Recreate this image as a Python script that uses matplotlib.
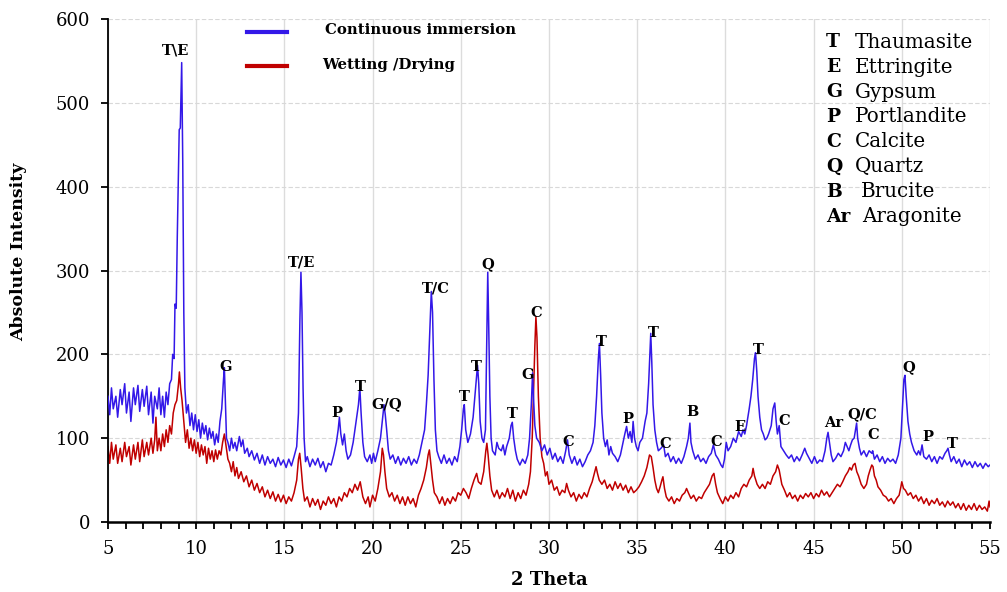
import matplotlib
matplotlib.use("Agg")
import matplotlib.pyplot as plt
from matplotlib.ticker import MultipleLocator

plt.rcParams['font.family'] = ['DejaVu Serif']

# (2 theta, intensity) - continuous immersion
ci_points = [
    (5.0, 150), (5.1, 128), (5.2, 160), (5.3, 135), (5.45, 150), (5.55, 125), (5.7, 158), (5.8, 140),
    (5.95, 165), (6.05, 130), (6.2, 155), (6.3, 120), (6.45, 160), (6.55, 140), (6.7, 163), (6.8, 132),
    (6.95, 158), (7.05, 138), (7.2, 162), (7.3, 128), (7.45, 155), (7.55, 118), (7.65, 150), (7.8, 135),
    (7.9, 160), (8.0, 128), (8.1, 150), (8.2, 125), (8.3, 155), (8.4, 140), (8.5, 165), (8.6, 170),
    (8.67, 200), (8.75, 195), (8.8, 260), (8.87, 255), (8.93, 340), (9.0, 420), (9.04, 468), (9.1, 470),
    (9.18, 548), (9.24, 430), (9.3, 250), (9.36, 160), (9.45, 130), (9.55, 140), (9.65, 115), (9.75, 130),
    (9.85, 110), (9.95, 128), (10.05, 108), (10.15, 122), (10.25, 100), (10.35, 118), (10.45, 105),
    (10.55, 115), (10.65, 98), (10.75, 112), (10.85, 100), (10.95, 108), (11.05, 92), (11.15, 105),
    (11.25, 95), (11.35, 120), (11.45, 135), (11.55, 170), (11.6, 184), (11.65, 150), (11.72, 100),
    (11.8, 95), (11.9, 85), (12.0, 100), (12.1, 88), (12.2, 95), (12.3, 85), (12.45, 102), (12.55, 90),
    (12.65, 98), (12.75, 82), (12.9, 88), (13.0, 78), (13.15, 85), (13.3, 74), (13.45, 82), (13.6, 70),
    (13.75, 80), (13.9, 68), (14.05, 78), (14.2, 70), (14.35, 75), (14.5, 66), (14.65, 77), (14.8, 68),
    (14.95, 74), (15.1, 65), (15.25, 75), (15.4, 67), (15.55, 78), (15.7, 90), (15.8, 130), (15.88, 240),
    (15.94, 298), (16.0, 250), (16.06, 160), (16.12, 100), (16.2, 72), (16.3, 78), (16.45, 66), (16.6, 75),
    (16.75, 68), (16.9, 76), (17.05, 65), (17.2, 72), (17.35, 60), (17.5, 70), (17.65, 68), (17.8, 80),
    (17.95, 95), (18.05, 110), (18.12, 125), (18.2, 105), (18.3, 92), (18.4, 105), (18.5, 85), (18.6, 75),
    (18.75, 80), (18.9, 95), (19.0, 110), (19.1, 125), (19.2, 140), (19.28, 160), (19.35, 130), (19.45, 95),
    (19.55, 78), (19.7, 72), (19.85, 80), (19.95, 70), (20.05, 82), (20.15, 72), (20.3, 85), (20.45, 100),
    (20.55, 120), (20.65, 140), (20.72, 128), (20.8, 110), (20.9, 85), (21.0, 75), (21.15, 80), (21.3, 70),
    (21.45, 78), (21.6, 68), (21.75, 76), (21.9, 70), (22.05, 78), (22.2, 68), (22.35, 75), (22.5, 70),
    (22.65, 80), (22.8, 95), (22.95, 110), (23.05, 140), (23.15, 175), (23.25, 230), (23.33, 275),
    (23.4, 250), (23.48, 170), (23.56, 110), (23.65, 85), (23.75, 78), (23.9, 70), (24.05, 80), (24.2, 70),
    (24.35, 76), (24.5, 68), (24.65, 78), (24.8, 72), (24.95, 90), (25.05, 110), (25.15, 135), (25.2, 140),
    (25.28, 110), (25.4, 95), (25.55, 105), (25.7, 125), (25.8, 150), (25.9, 175), (25.95, 187),
    (26.02, 165), (26.1, 120), (26.2, 100), (26.3, 95), (26.4, 110), (26.48, 230), (26.53, 298),
    (26.58, 240), (26.65, 150), (26.72, 100), (26.8, 85), (26.95, 80), (27.05, 95), (27.15, 88),
    (27.3, 85), (27.4, 92), (27.5, 80), (27.6, 90), (27.75, 100), (27.85, 115), (27.92, 119), (28.0, 100),
    (28.1, 85), (28.2, 75), (28.35, 68), (28.5, 75), (28.65, 70), (28.8, 80), (28.9, 100), (29.0, 140),
    (29.07, 178), (29.12, 150), (29.2, 115), (29.3, 100), (29.45, 95), (29.6, 85), (29.75, 92), (29.9, 80),
    (30.05, 88), (30.2, 75), (30.35, 82), (30.5, 72), (30.65, 78), (30.8, 70), (30.95, 85), (31.05, 98),
    (31.15, 80), (31.3, 70), (31.45, 78), (31.6, 68), (31.75, 75), (31.9, 66), (32.05, 72), (32.2, 80),
    (32.35, 85), (32.5, 95), (32.6, 115), (32.7, 150), (32.8, 195), (32.86, 213), (32.93, 175), (33.0, 130),
    (33.1, 100), (33.2, 90), (33.3, 98), (33.4, 80), (33.5, 90), (33.6, 82), (33.75, 78), (33.9, 72),
    (34.05, 80), (34.2, 95), (34.3, 105), (34.4, 114), (34.5, 100), (34.6, 108), (34.7, 95), (34.77, 120),
    (34.85, 100), (34.95, 90), (35.05, 85), (35.15, 95), (35.3, 100), (35.45, 120), (35.55, 130),
    (35.65, 165), (35.72, 200), (35.77, 225), (35.83, 190), (35.9, 140), (36.0, 110), (36.1, 95),
    (36.2, 85), (36.35, 88), (36.5, 92), (36.6, 78), (36.75, 82), (36.9, 72), (37.05, 78), (37.2, 70),
    (37.35, 76), (37.5, 70), (37.65, 78), (37.8, 90), (37.9, 100), (37.99, 118), (38.05, 95), (38.15, 85),
    (38.3, 75), (38.45, 80), (38.6, 72), (38.75, 76), (38.9, 70), (39.05, 78), (39.2, 82), (39.32, 92),
    (39.45, 80), (39.6, 75), (39.75, 68), (39.85, 65), (39.95, 75), (40.05, 95), (40.15, 85), (40.3, 90),
    (40.45, 100), (40.6, 95), (40.75, 108), (40.9, 102), (41.0, 110), (41.1, 105), (41.2, 115),
    (41.35, 135), (41.45, 150), (41.55, 170), (41.65, 195), (41.71, 202), (41.78, 180), (41.85, 150),
    (41.95, 125), (42.05, 110), (42.15, 105), (42.25, 98), (42.35, 100), (42.45, 105), (42.6, 115),
    (42.7, 135), (42.8, 142), (42.88, 120), (42.95, 105), (43.05, 115), (43.15, 90), (43.3, 85),
    (43.45, 80), (43.6, 76), (43.75, 80), (43.9, 72), (44.05, 78), (44.2, 73), (44.35, 80), (44.5, 88),
    (44.6, 82), (44.75, 76), (44.9, 70), (45.05, 78), (45.2, 70), (45.35, 74), (45.5, 72), (45.65, 85),
    (45.75, 100), (45.82, 107), (45.9, 95), (46.0, 80), (46.1, 72), (46.25, 76), (46.4, 82), (46.55, 78),
    (46.7, 85), (46.8, 95), (46.9, 90), (47.0, 85), (47.1, 92), (47.2, 98), (47.3, 100), (47.38, 110),
    (47.44, 118), (47.5, 100), (47.6, 88), (47.7, 80), (47.85, 85), (48.0, 78), (48.15, 85), (48.3, 82),
    (48.35, 85), (48.45, 75), (48.6, 80), (48.75, 72), (48.9, 78), (49.05, 70), (49.2, 76), (49.35, 72),
    (49.5, 75), (49.65, 70), (49.8, 80), (49.95, 100), (50.05, 140), (50.12, 170), (50.18, 175),
    (50.25, 150), (50.35, 120), (50.45, 105), (50.55, 95), (50.7, 85), (50.85, 80), (50.95, 85),
    (51.05, 80), (51.15, 92), (51.25, 78), (51.4, 75), (51.55, 80), (51.7, 72), (51.85, 78), (52.0, 70),
    (52.15, 78), (52.3, 75), (52.45, 82), (52.55, 85), (52.62, 88), (52.7, 80), (52.8, 72), (52.95, 78),
    (53.1, 70), (53.25, 75), (53.4, 66), (53.55, 74), (53.7, 68), (53.85, 72), (54.0, 65), (54.15, 72),
    (54.3, 66), (54.45, 70), (54.6, 64), (54.75, 70), (54.9, 66), (55.0, 68),
]

# wetting / drying trace
wd_points = [
    (5.0, 90), (5.1, 70), (5.2, 95), (5.3, 75), (5.45, 92), (5.55, 70), (5.7, 88), (5.8, 72), (5.95, 95),
    (6.05, 78), (6.2, 90), (6.3, 68), (6.45, 92), (6.55, 75), (6.7, 95), (6.8, 72), (6.95, 98), (7.05, 78),
    (7.2, 95), (7.3, 80), (7.45, 100), (7.55, 82), (7.65, 98), (7.72, 125), (7.8, 85), (7.9, 100),
    (8.0, 85), (8.1, 105), (8.2, 90), (8.3, 110), (8.4, 95), (8.5, 115), (8.6, 105), (8.7, 130),
    (8.8, 140), (8.9, 145), (9.0, 165), (9.05, 179), (9.12, 160), (9.2, 145), (9.3, 120), (9.4, 95),
    (9.5, 110), (9.6, 88), (9.7, 100), (9.8, 85), (9.9, 98), (10.0, 82), (10.1, 95), (10.2, 78),
    (10.3, 92), (10.4, 80), (10.5, 90), (10.6, 70), (10.7, 88), (10.8, 75), (10.9, 85), (11.0, 72),
    (11.1, 86), (11.2, 75), (11.3, 85), (11.4, 80), (11.5, 95), (11.6, 105), (11.7, 90), (11.8, 75),
    (11.9, 70), (12.0, 60), (12.1, 72), (12.2, 55), (12.3, 65), (12.4, 52), (12.55, 60), (12.7, 48),
    (12.85, 55), (13.0, 42), (13.15, 50), (13.3, 38), (13.45, 46), (13.6, 35), (13.75, 42), (13.9, 30),
    (14.05, 38), (14.2, 28), (14.35, 36), (14.5, 25), (14.65, 33), (14.8, 24), (14.95, 32), (15.1, 22),
    (15.25, 30), (15.4, 25), (15.55, 35), (15.7, 50), (15.8, 75), (15.87, 82), (15.95, 65), (16.05, 40),
    (16.15, 25), (16.3, 30), (16.45, 18), (16.6, 28), (16.75, 20), (16.9, 27), (17.05, 15), (17.2, 25),
    (17.35, 20), (17.5, 30), (17.65, 22), (17.8, 28), (17.95, 18), (18.1, 30), (18.25, 25), (18.4, 35),
    (18.55, 30), (18.7, 40), (18.85, 35), (19.0, 45), (19.15, 38), (19.3, 48), (19.45, 30), (19.6, 22),
    (19.75, 30), (19.85, 18), (20.0, 32), (20.15, 25), (20.3, 40), (20.45, 60), (20.55, 88), (20.62, 80),
    (20.7, 60), (20.8, 40), (20.95, 30), (21.1, 35), (21.25, 25), (21.4, 32), (21.55, 22), (21.7, 30),
    (21.85, 20), (22.0, 30), (22.15, 22), (22.3, 28), (22.45, 18), (22.6, 32), (22.75, 40), (22.9, 50),
    (23.05, 65), (23.15, 80), (23.22, 86), (23.3, 70), (23.4, 50), (23.5, 35), (23.65, 30), (23.8, 22),
    (23.95, 30), (24.1, 20), (24.25, 28), (24.4, 22), (24.55, 30), (24.7, 25), (24.85, 35), (25.0, 32),
    (25.15, 40), (25.3, 35), (25.45, 28), (25.6, 40), (25.75, 50), (25.9, 58), (26.0, 48), (26.15, 45),
    (26.3, 60), (26.42, 85), (26.48, 94), (26.55, 80), (26.65, 55), (26.75, 38), (26.9, 30), (27.05, 38),
    (27.2, 28), (27.35, 35), (27.5, 30), (27.65, 40), (27.8, 28), (27.95, 38), (28.1, 25), (28.25, 35),
    (28.4, 28), (28.55, 38), (28.7, 32), (28.85, 45), (28.95, 60), (29.05, 100), (29.12, 150),
    (29.2, 210), (29.26, 245), (29.32, 220), (29.4, 150), (29.5, 100), (29.6, 78), (29.7, 70), (29.8, 55),
    (29.9, 60), (30.0, 45), (30.15, 50), (30.3, 38), (30.45, 42), (30.6, 32), (30.75, 38), (30.9, 35),
    (31.0, 46), (31.1, 38), (31.25, 30), (31.4, 35), (31.55, 25), (31.7, 33), (31.85, 28), (32.0, 35),
    (32.15, 30), (32.3, 40), (32.45, 48), (32.6, 60), (32.67, 66), (32.75, 58), (32.85, 50), (33.0, 45),
    (33.15, 50), (33.3, 40), (33.45, 45), (33.6, 38), (33.75, 48), (33.9, 40), (34.05, 46), (34.2, 38),
    (34.35, 44), (34.5, 35), (34.65, 42), (34.8, 35), (34.95, 38), (35.1, 42), (35.25, 48), (35.4, 55),
    (35.55, 65), (35.7, 80), (35.8, 78), (35.9, 65), (36.0, 50), (36.1, 40), (36.2, 35), (36.3, 42),
    (36.4, 50), (36.46, 54), (36.55, 40), (36.65, 30), (36.8, 25), (36.95, 30), (37.1, 22), (37.25, 28),
    (37.4, 25), (37.55, 32), (37.7, 35), (37.8, 40), (37.9, 35), (38.05, 28), (38.2, 32), (38.35, 25),
    (38.5, 30), (38.65, 28), (38.8, 35), (38.95, 40), (39.1, 45), (39.25, 55), (39.35, 58), (39.45, 45),
    (39.55, 35), (39.7, 28), (39.85, 22), (40.0, 30), (40.15, 25), (40.3, 32), (40.45, 28), (40.6, 35),
    (40.75, 30), (40.9, 40), (41.05, 45), (41.2, 42), (41.35, 50), (41.5, 55), (41.57, 64), (41.65, 55),
    (41.8, 45), (41.95, 40), (42.1, 45), (42.25, 40), (42.4, 48), (42.55, 45), (42.7, 55), (42.85, 60),
    (42.95, 68), (43.05, 62), (43.2, 45), (43.35, 38), (43.5, 30), (43.65, 35), (43.8, 28), (43.95, 32),
    (44.1, 25), (44.25, 32), (44.4, 28), (44.55, 34), (44.7, 30), (44.85, 35), (45.0, 28), (45.15, 34),
    (45.3, 30), (45.45, 38), (45.6, 32), (45.75, 36), (45.9, 30), (46.05, 35), (46.2, 40), (46.35, 45),
    (46.5, 42), (46.65, 48), (46.8, 55), (46.95, 60), (47.05, 65), (47.15, 62), (47.25, 68), (47.35, 70),
    (47.45, 60), (47.55, 55), (47.7, 45), (47.85, 40), (48.0, 45), (48.1, 55), (48.2, 62), (48.3, 68),
    (48.37, 66), (48.45, 55), (48.55, 50), (48.65, 42), (48.8, 38), (48.95, 32), (49.1, 30), (49.25, 25),
    (49.4, 28), (49.55, 22), (49.7, 28), (49.85, 32), (49.95, 42), (50.0, 48), (50.1, 40), (50.2, 38),
    (50.35, 32), (50.5, 35), (50.65, 28), (50.8, 32), (50.95, 25), (51.1, 30), (51.25, 22), (51.4, 28),
    (51.55, 20), (51.7, 26), (51.85, 22), (52.0, 28), (52.15, 20), (52.3, 24), (52.45, 18), (52.6, 25),
    (52.75, 20), (52.9, 24), (53.05, 17), (53.2, 22), (53.35, 15), (53.5, 22), (53.65, 14), (53.8, 20),
    (53.95, 15), (54.1, 22), (54.25, 14), (54.4, 20), (54.55, 15), (54.7, 18), (54.85, 13), (54.95, 25),
    (55.0, 18),
]

# peak labels: text, 2theta, intensity
peak_labels = [
    ("T\\E", 8.85, 563), ("G", 11.69, 185), ("T/E", 16.0, 310), ("P", 17.98, 130),
    ("T", 19.29, 161), ("G/Q", 20.8, 141), ("T/C", 23.6, 278), ("T", 25.18, 149),
    ("T", 25.86, 185), ("Q", 26.54, 308), ("T", 27.9, 129), ("G", 28.81, 175),
    ("C", 29.26, 249), ("C", 31.08, 95), ("T", 32.95, 215), ("P", 34.48, 123),
    ("T", 35.9, 225), ("C", 36.58, 93), ("B", 38.16, 131), ("C", 39.47, 95),
    ("E", 40.8, 113), ("T", 41.85, 205), ("C", 43.32, 120), ("Ar", 46.16, 118),
    ("Q/C", 47.74, 129), ("C", 48.37, 104), ("Q", 50.4, 185), ("P", 51.5, 101),
    ("T", 52.84, 93),
]

phase_symbols = ["T", "E", "G", "P", "C", "Q", "B", "Ar"]
phase_names = ["Thaumasite", "Ettringite", "Gypsum", "Portlandite", "Calcite", "Quartz", "Brucite", "Aragonite"]

blue = "#3318e8"
red = "#c00000"

fig = plt.figure(figsize=(10.07, 5.92), dpi=100)
ax = fig.add_axes([0.1072, 0.1182, 0.8759, 0.8497])

x_ci, y_ci = zip(*ci_points)
x_wd, y_wd = zip(*wd_points)
ax.plot(x_ci, y_ci, color=blue, lw=1.1, zorder=3)
ax.plot(x_wd, y_wd, color=red, lw=1.1, zorder=2)

for txt, xx, yy in peak_labels:
    ax.text(xx, yy, txt, fontsize=10.5, fontweight='bold', ha='center', va='center', zorder=5)

ax.set_xlim(5, 55)
ax.set_ylim(0, 600)
ax.xaxis.set_major_locator(MultipleLocator(5))
ax.xaxis.set_minor_locator(MultipleLocator(1))
ax.yaxis.set_major_locator(MultipleLocator(100))
ax.tick_params(axis='both', which='major', labelsize=13, direction='out', length=5, width=1.3)
ax.tick_params(axis='x', which='major', pad=8)
ax.tick_params(axis='y', which='major', pad=8)
ax.tick_params(axis='x', which='minor', direction='out', length=5, width=1.3)

ax.grid(axis='x', which='major', color='#dcdcdc', lw=1, zorder=0)
ax.grid(axis='y', which='major', color='#d8d8d8', lw=0.8, linestyle=(0, (4, 2)), zorder=0)
ax.set_axisbelow(True)
for s in ['top', 'right']:
    ax.spines[s].set_visible(False)
ax.spines['left'].set_linewidth(1.3)
ax.spines['bottom'].set_linewidth(1.8)

ax.set_xlabel("2 Theta", fontsize=13, fontweight='bold')
ax.set_ylabel("Absolute Intensity", fontsize=12.5, fontweight='bold')
ax.xaxis.set_label_coords(0.5, -0.098)
ax.yaxis.set_label_coords(-0.092, 0.537)

# series key drawn at top
ax.plot([0.1576, 0.2029], [0.974, 0.974], color=blue, lw=3, transform=ax.transAxes, clip_on=False)
ax.plot([0.1576, 0.2029], [0.907, 0.907], color=red, lw=3, transform=ax.transAxes, clip_on=False)
ax.text(0.246, 0.978, "Continuous immersion", fontsize=10.7, fontweight='bold', va='center', transform=ax.transAxes)
ax.text(0.2426, 0.9085, "Wetting /Drying", fontsize=10.7, fontweight='bold', va='center', transform=ax.transAxes)

# phase key on the right
for i, (sym, name) in enumerate(zip(phase_symbols, phase_names)):
    yy = 0.954 - i * 0.0496
    ax.text(0.814, yy, sym, fontsize=13.5, fontweight='bold', va='center', transform=ax.transAxes)
    nx = 0.8465
    if sym == "B":
        nx = 0.8535
    elif sym == "Ar":
        nx = 0.8555
    ax.text(nx, yy, name, fontsize=14.3, va='center', transform=ax.transAxes)

fig.savefig("out.png", dpi=100)
